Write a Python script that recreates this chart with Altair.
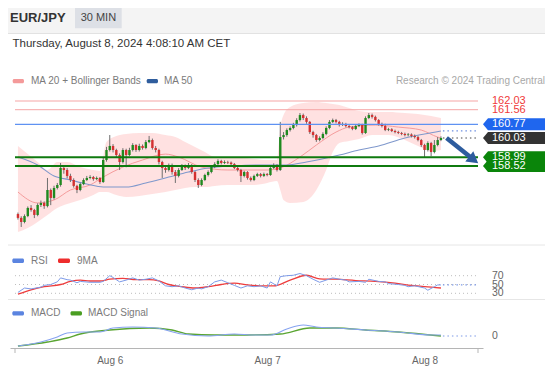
import altair as alt
import pandas as pd

FONT = "Liberation Sans"

# ---------------- data ----------------
opens = [155.92,155.71,155.49,155.81,156.25,156.14,155.87,156.41,156.52,156.35,
157.22,156.79,157.33,157.49,158.41,158.30,157.98,157.76,157.44,157.22,
157.54,157.76,157.87,157.92,157.81,157.87,157.65,158.84,159.38,159.60,
159.38,159.11,158.73,159.38,159.11,159.38,159.65,159.38,159.60,159.49,
159.81,159.92,159.49,159.38,158.73,158.41,158.30,158.57,158.19,157.98,
158.30,158.52,158.41,158.57,158.19,157.76,157.49,157.76,158.03,158.19,
158.46,158.62,158.79,158.68,158.73,158.70,158.62,158.41,158.30,157.98,
158.19,157.87,157.76,157.98,158.08,157.98,158.08,158.03,158.41,158.57,
158.30,160.08,160.19,160.46,160.57,160.73,161.00,161.27,161.11,160.90,
160.35,160.19,159.92,160.03,160.25,160.57,160.90,161.00,160.90,160.73,
160.79,160.68,160.62,160.52,160.68,160.73,160.30,161.11,161.27,161.17,
161.00,160.79,160.68,160.46,160.50,160.41,160.35,160.30,160.25,160.19,
160.22,160.14,160.08,159.92,159.65,159.38,159.76,159.27,159.65,159.92]
closes = [155.71,155.49,155.81,156.25,156.14,155.87,156.41,156.52,156.35,157.22,
156.79,157.33,157.49,158.41,158.30,157.98,157.76,157.44,157.22,157.54,
157.76,157.87,157.92,157.81,157.87,157.65,158.84,159.38,159.60,159.38,
159.11,158.73,159.38,159.11,159.38,159.65,159.38,159.60,159.49,159.81,
159.92,159.49,159.38,158.73,158.41,158.30,158.57,158.19,157.98,158.30,
158.52,158.41,158.57,158.19,157.76,157.49,157.76,158.03,158.19,158.46,
158.62,158.79,158.68,158.73,158.70,158.62,158.41,158.30,157.98,158.19,
157.87,157.76,157.98,158.08,157.98,158.08,158.03,158.41,158.57,158.30,
160.08,160.19,160.46,160.57,160.73,161.00,161.27,161.11,160.90,160.35,
160.19,159.92,160.03,160.25,160.57,160.90,161.00,160.90,160.73,160.79,
160.68,160.62,160.52,160.68,160.73,160.30,161.11,161.27,161.17,161.00,
160.79,160.68,160.46,160.50,160.41,160.35,160.30,160.25,160.19,160.22,
160.14,160.08,159.92,159.65,159.38,159.76,159.27,159.65,159.92,160.03]
highs = [156.00,155.80,155.90,156.33,156.40,156.20,156.50,156.65,156.60,157.87,
157.30,157.45,157.60,158.68,158.55,158.40,158.10,157.85,157.50,157.62,
157.85,157.98,158.02,157.98,157.95,157.92,158.95,159.55,160.19,159.70,
159.45,159.20,159.48,159.45,159.50,159.75,159.70,159.72,159.68,159.92,
160.14,160.00,159.60,159.45,158.80,158.52,158.65,158.65,158.30,158.40,
158.62,158.60,158.68,158.62,158.25,157.85,157.85,158.10,158.28,158.55,
158.72,158.88,158.85,158.82,158.80,158.76,158.68,158.48,158.36,158.26,
158.24,157.95,158.05,158.15,158.14,158.16,158.14,158.50,158.66,158.62,
160.90,160.35,160.55,160.66,160.85,161.10,161.38,161.35,161.20,160.95,
160.42,160.25,160.12,160.34,160.66,161.00,161.08,161.06,160.96,160.88,
160.85,160.74,160.68,160.76,160.82,160.80,161.20,161.38,161.35,161.24,
161.05,160.86,160.80,160.58,160.56,160.48,160.42,160.36,160.32,160.30,
160.28,160.22,160.15,159.98,159.72,159.85,159.82,159.92,160.08,160.12]
lows = [155.62,155.22,155.42,155.75,156.05,155.70,155.80,156.30,156.20,156.28,
156.40,156.70,157.25,157.40,158.10,157.85,157.65,157.35,157.05,157.15,
157.48,157.70,157.80,157.72,157.75,157.55,157.60,158.75,159.30,159.25,
159.00,158.30,158.65,158.45,159.05,159.30,159.28,159.30,159.40,159.42,
159.75,159.40,159.25,158.60,157.87,158.15,158.22,158.05,157.60,157.90,
158.25,158.30,158.35,158.10,157.65,157.33,157.42,157.70,157.95,158.12,
158.40,158.55,158.60,158.62,158.62,158.55,158.35,158.22,157.65,157.90,
157.78,157.68,157.70,157.92,157.90,157.92,157.96,157.98,158.35,158.22,
158.25,159.95,160.10,160.38,160.50,160.65,160.92,161.00,160.80,160.25,
160.05,159.82,159.85,159.96,160.18,160.50,160.84,160.82,160.65,160.68,
160.60,160.55,160.45,160.46,160.62,160.22,160.25,161.05,161.08,160.92,
160.70,160.60,160.40,160.40,160.35,160.28,160.24,160.18,160.12,160.12,
160.06,160.00,159.85,159.55,159.00,159.30,159.05,159.20,159.58,159.86]
candle_idx = list(range(len(closes)))

bb_idx = [0,3,6,9,12,15,19,23,25,27,30,33,37,41,45,48,51,54,57,60,64,68,72,76,79,80,81,83,87,91,94,96,98,101,104,108,113,118,122,126,129]
bb_upper = [159.60,159.16,158.73,158.30,158.73,158.73,158.46,158.30,158.25,159.81,160.14,160.25,160.30,160.30,160.19,160.08,159.81,159.54,159.27,159.00,158.95,158.95,158.90,158.84,158.84,160.57,161.27,161.71,161.92,161.98,161.92,161.87,161.81,161.65,161.49,161.44,161.44,161.38,161.33,161.22,161.11]
bb_lower = [154.95,155.16,155.49,155.87,156.25,156.46,156.68,156.95,157.11,157.11,156.95,156.84,156.90,157.00,157.11,157.22,157.33,157.38,157.38,157.44,157.49,157.49,157.49,157.60,157.70,157.22,156.68,156.52,156.57,157.22,158.30,159.27,159.76,159.87,159.97,160.19,160.19,159.92,159.60,159.33,159.38]

ma20_idx = [0,6,11,16,22,26,32,38,45,49,56,64,70,76,80,86,91,97,101,109,116,123,128,129]
ma20_vals = [157.11,156.52,156.68,157.22,157.49,157.92,158.46,158.84,159.16,159.00,158.46,158.30,158.30,158.30,158.41,159.00,159.65,160.35,160.62,160.73,160.62,160.46,160.08,160.03]

ma50_idx = [0,6,11,16,21,26,33,39,46,52,58,66,76,82,88,98,104,110,118,124,129]
ma50_vals = [159.00,158.57,157.98,157.76,157.54,157.38,157.38,157.60,157.92,158.19,158.41,158.52,158.57,158.57,158.73,159.11,159.38,159.60,160.03,160.25,160.41]

rsi_idx = [0,2,4,7,8,10,12,13,15,16,18,19,22,25,26,28,29,31,33,35,37,39,41,43,45,47,49,51,53,55,56,58,60,62,64,66,68,70,72,74,76,77,79,80,82,84,86,88,90,92,94,96,98,100,101,104,106,107,110,112,113,116,118,119,121,124,125,127,128,129]
rsi_vals = [32,42,40,44,48,50,56,65,61,60,54,57,55,55,57,70,66,56,60,65,60,62,65,58,47,45,47,42,38,42,40,45,56,60,54,48,42,47,45,47,42,56,47,68,70,71,75,70,62,55,60,65,62,60,56,57,55,62,57,56,52,50,48,45,47,42,37,45,49,49]
rsima_idx = [0,4,8,13,16,19,22,25,28,32,36,40,43,46,50,54,58,62,66,70,74,78,83,88,92,97,103,109,115,120,124,129]
rsima_vals = [28,38,45,50,57,60,58,58,62,64,61,61,58,50,45,42,45,50,53,49,47,47,60,71,63,62,59,57,53,48,45,42]
rsi_levels = [70, 50, 30]

macd_idx = [0,7,12,15,20,25,29,35,42,50,58,66,72,77,82,87,91,97,106,116,126,129]
macd_vals = [-0.50,-0.30,-0.05,0.15,0.20,0.20,0.40,0.45,0.40,0.10,0.00,0.10,0.05,0.05,0.35,0.55,0.45,0.40,0.30,0.20,0.05,0.05]
signal_idx = [0,9,15,19,28,40,47,52,60,70,80,89,97,106,116,129]
signal_vals = [-0.50,-0.30,-0.10,0.10,0.30,0.40,0.30,0.10,0.05,0.05,0.10,0.40,0.40,0.30,0.20,0.00]

level_values = [162.03, 161.56, 160.77, 160.03, 158.99, 158.52]
level_kinds = ["target", "target", "pivot", "last", "support", "support"]

arrow_idx = [130.7, 139.0]
arrow_price = [160.03, 158.85]

x_start, x_end = -0.9, 140.3
day_idx = [28, 76, 124]
day_labels = ["Aug 6", "Aug 7", "Aug 8"]

pair_title = "EUR/JPY"
period_label = "30 MIN"
date_label = "Thursday, August 8, 2024 4:08:10 AM CET"
credit_label = "Research \u00a9 2024 Trading Central"
legend_price = ["MA 20 + Bollinger Bands", "MA 50"]
legend_rsi = ["RSI", "9MA"]
legend_macd = ["MACD", "MACD Signal"]

# ---------------- styles ----------------
UP, DOWN = "#1f8a1f", "#d33030"
LEVEL_STYLE = {
    "target": dict(line="#f5a5a5", width=1, box=None, text="#f03a3a"),
    "pivot": dict(line="#5f92f2", width=1.3, box="#1f66ee", text="white"),
    "last": dict(line=None, width=1, box="#333333", text="white"),
    "support": dict(line="#0f7a0f", width=2, box="#0a850a", text="white"),
}
TAG = "M-1,0L-0.839,-0.194L1,-0.194L1,0.194L-0.839,0.194Z"

xs = alt.Scale(domain=[x_start, x_end], range=[2, 475], nice=False, zero=False)
py = alt.Scale(domain=[154, 163], range=[241.555, 75.055], nice=False, zero=False)
ry = alt.Scale(domain=[0, 100], range=[298.5, 254.5], nice=False, zero=False)
my = alt.Scale(domain=[-1, 1], range=[348, 308], nice=False, zero=False)

label_expr = " : ".join(f"datum.value == {v} ? '{l}'" for v, l in zip(day_idx, day_labels)) + " : ''"
xaxis = alt.Axis(values=day_idx, labelExpr=label_expr, ticks=False, grid=False,
                 domainColor="#b5b5b5", labelColor="#666666", labelFont=FONT,
                 labelFontSize=10, labelPadding=7, title=None, labelFlush=False)


def X(f):
    return alt.X(f, type="quantitative", scale=xs, axis=xaxis)


def Yp(f):
    return alt.Y(f, type="quantitative", scale=py, axis=None)


def Yr(f):
    return alt.Y(f, type="quantitative", scale=ry, axis=None)


def Ym(f):
    return alt.Y(f, type="quantitative", scale=my, axis=None)


one = pd.DataFrame({"k": [0]})


def txt(s, x, y, size=10, color="#7a7a7a", weight="normal", align="left"):
    return alt.Chart(pd.DataFrame({"t": [s]})).mark_text(
        align=align, baseline="middle", font=FONT, fontSize=size,
        fontWeight=weight, color=color).encode(
        x=alt.value(x), y=alt.value(y), text="t:N")


def box(x0, x1, y0, y1, color, r=0):
    return alt.Chart(one).mark_rect(color=color, cornerRadius=r).encode(
        x=alt.value(x0), x2=alt.value(x1), y=alt.value(y0), y2=alt.value(y1))


def hline(y, color="#e6e6e6"):
    return alt.Chart(one).mark_rule(color=color, strokeWidth=1).encode(
        x=alt.value(0), x2=alt.value(537), y=alt.value(y))


# ---------------- price panel ----------------
cdf = pd.DataFrame({"i": candle_idx, "o": opens, "h": highs, "l": lows, "c": closes})
bdf = pd.DataFrame({"i": bb_idx, "u": bb_upper, "lo": bb_lower})
m20 = pd.DataFrame({"i": ma20_idx, "v": ma20_vals})
m50 = pd.DataFrame({"i": ma50_idx, "v": ma50_vals})
last_i = candle_idx[-1] + 0.6

band = alt.Chart(bdf).mark_area(color="#ffdcdc", opacity=0.85, interpolate="monotone").encode(
    x=X("i"), y=Yp("u"), y2="lo")
ma20 = alt.Chart(m20).mark_line(color="#f59c9c", strokeWidth=1, interpolate="monotone").encode(
    x=X("i"), y=Yp("v"))
ma50 = alt.Chart(m50).mark_line(color="#7f98cc", strokeWidth=1.1, interpolate="monotone").encode(
    x=X("i"), y=Yp("v"))
ma50_ext = alt.Chart(pd.DataFrame({"x0": [last_i], "x1": [x_end], "v": [ma50_vals[-1]]})).mark_rule(
    color="#6d8fe0", strokeWidth=1.2, strokeDash=[1.5, 3]).encode(x=X("x0"), x2="x1", y=Yp("v"))
wicks = alt.Chart(cdf).mark_rule(color="#6e6e6e", strokeWidth=1).encode(x=X("i"), y=Yp("l"), y2="h")
bodies = alt.Chart(cdf).mark_bar(size=2.4).encode(
    x=X("i"), y=Yp("o"), y2="c",
    color=alt.condition("datum.c >= datum.o", alt.value(UP), alt.value(DOWN)))

price_layers = [band, ma20, ma50, ma50_ext, wicks, bodies]

for v, k in zip(level_values, level_kinds):
    st = LEVEL_STYLE[k]
    if st["line"]:
        price_layers.append(alt.Chart(pd.DataFrame({"x0": [x_start], "x1": [x_end], "p": [v]})).mark_rule(
            color=st["line"], strokeWidth=st["width"]).encode(x=X("x0"), x2="x1", y=Yp("p")))
    else:
        price_layers.append(alt.Chart(pd.DataFrame({"x0": [last_i], "x1": [x_end], "p": [v]})).mark_rule(
            color="#444444", strokeWidth=1.2, strokeDash=[1.5, 3]).encode(x=X("x0"), x2="x1", y=Yp("p")))

adf = pd.DataFrame({"x0": [arrow_idx[0]], "x1": [arrow_idx[1]], "p0": [arrow_price[0]], "p1": [arrow_price[1]]})
arrow = alt.Chart(adf).mark_rule(color="#2d5c9e", strokeWidth=4.5).encode(
    x=X("x0"), x2="x1", y=Yp("p0"), y2="p1")
head = alt.Chart(adf).mark_point(shape="triangle-right", size=170, filled=True, opacity=1,
                                 color="#2d5c9e", angle=38).encode(x=X("x1"), y=Yp("p1"))
price_layers += [arrow, head]

for v, k in zip(level_values, level_kinds):
    st = LEVEL_STYLE[k]
    ldf = pd.DataFrame({"p": [v], "t": [f"{v:.2f}"]})
    if st["box"]:
        price_layers.append(alt.Chart(ldf).mark_point(
            shape=TAG, size=3844, filled=True, opacity=1, strokeWidth=0, color=st["box"]).encode(
            x=alt.value(506), y=Yp("p")))
    price_layers.append(alt.Chart(ldf).mark_text(
        align="left", baseline="middle", font=FONT, fontSize=11, color=st["text"]).encode(
        x=alt.value(484), y=Yp("p"), text="t:N"))

price = alt.layer(*price_layers)

# ---------------- RSI panel ----------------
rdf = pd.DataFrame({"i": rsi_idx, "v": rsi_vals})
rmdf = pd.DataFrame({"i": rsima_idx, "v": rsima_vals})
rl = pd.DataFrame({"x0": [x_start] * 3, "x1": [x_end] * 3, "v": rsi_levels, "t": [str(v) for v in rsi_levels]})
rsi = alt.layer(
    alt.Chart(rl).mark_rule(color="#bdbdbd", strokeWidth=1, strokeDash=[1, 3]).encode(x=X("x0"), x2="x1", y=Yr("v")),
    alt.Chart(rmdf).mark_line(color="#ee3d3d", strokeWidth=1.3, interpolate="monotone").encode(x=X("i"), y=Yr("v")),
    alt.Chart(rdf).mark_line(color="#7d9ae8", strokeWidth=1).encode(x=X("i"), y=Yr("v")),
    alt.Chart(pd.DataFrame({"x0": [last_i], "x1": [x_end], "v": [rsi_vals[-1]]})).mark_rule(
        color="#7d9ae8", strokeWidth=1.2, strokeDash=[1.5, 3]).encode(x=X("x0"), x2="x1", y=Yr("v")),
    alt.Chart(rl).mark_text(align="left", baseline="middle", font=FONT, fontSize=10.5, color="#666666").encode(
        x=alt.value(484), y=Yr("v"), text="t:N"),
)

# ---------------- MACD panel ----------------
mdf = pd.DataFrame({"i": macd_idx, "v": macd_vals})
sdf = pd.DataFrame({"i": signal_idx, "v": signal_vals})
macd = alt.layer(
    alt.Chart(sdf).mark_line(color="#5aa532", strokeWidth=1.3, interpolate="monotone").encode(x=X("i"), y=Ym("v")),
    alt.Chart(mdf).mark_line(color="#86a3f0", strokeWidth=1.1, interpolate="monotone").encode(x=X("i"), y=Ym("v")),
    alt.Chart(pd.DataFrame({"x0": [last_i], "x1": [x_end], "v": [0]})).mark_rule(
        color="#7d9ae8", strokeWidth=1.2, strokeDash=[1.5, 3]).encode(x=X("x0"), x2="x1", y=Ym("v")),
    alt.Chart(pd.DataFrame({"v": [0], "t": ["0"]})).mark_text(
        align="left", baseline="middle", font=FONT, fontSize=10.5, color="#666666").encode(
        x=alt.value(484), y=Ym("v"), text="t:N"),
    alt.Chart(pd.DataFrame({"x0": [x_start, x_end]})).mark_rule(color="#b5b5b5", strokeWidth=1).encode(
        x=X("x0"), y=alt.value(340), y2=alt.value(345)),
)

# ---------------- decorations ----------------
deco = [
    box(0, 537, 0, 25.5, "#f4f4f4"),
    hline(25.5, "#e2e2e2"),
    box(67, 113.7, -1.3, 20.3, "#dde0e6"),
    txt(pair_title, 2, 10, size=13, color="#333333", weight="bold"),
    txt(period_label, 90.4, 9.6, size=11, color="#444444", align="center"),
    txt(date_label, 4.5, 36, size=11.5, color="#333333"),
    box(4.7, 16, 71, 75.3, "#f49a9a", 1.5),
    txt(legend_price[0], 23, 73),
    box(138.7, 150, 71, 75.3, "#2f5d9d", 1.5),
    txt(legend_price[1], 156, 73),
    txt(credit_label, 537, 73, color="#a8a8a8", align="right"),
    hline(237),
    box(4.3, 16, 250.6, 254.9, "#5b84e0", 1.5),
    txt(legend_rsi[0], 23, 252.7),
    box(50, 62, 250.6, 254.9, "#ee2d2d", 1.5),
    txt(legend_rsi[1], 69, 252.7),
    hline(291.5),
    box(4.3, 16, 303.2, 307.5, "#5b84e0", 1.5),
    txt(legend_macd[0], 23, 305.3),
    box(62.5, 74, 303.2, 307.5, "#4a9e22", 1.5),
    txt(legend_macd[1], 80, 305.3),
]

chart = alt.layer(*deco, price, rsi, macd).resolve_scale(y="independent").properties(
    width=537, height=340,
    autosize=alt.AutoSizeParams(type="none"),
    padding={"left": 0, "top": 0, "right": 0, "bottom": 19},
    background="white",
).configure_view(stroke=None)

chart.save("out.html", embed_options={"renderer": "svg", "actions": False})
